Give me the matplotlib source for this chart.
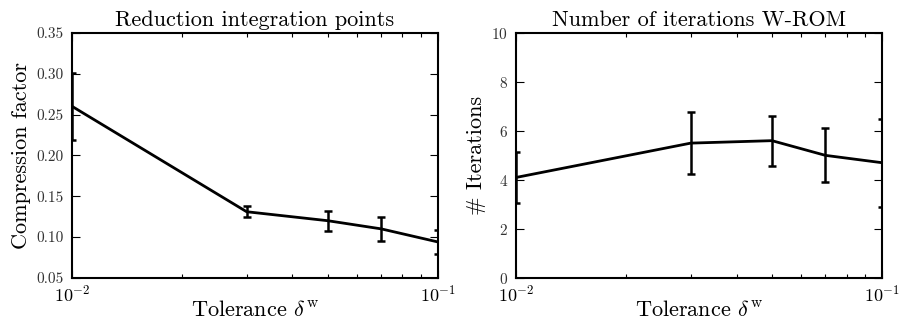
import matplotlib
matplotlib.use("Agg")
import matplotlib.pyplot as plt
import matplotlib.ticker as mticker
import numpy as np

plt.rcParams['font.family'] = 'serif'
plt.rcParams['font.serif'] = ['cmr10']
plt.rcParams['mathtext.fontset'] = 'cm'
plt.rcParams['axes.formatter.use_mathtext'] = True
plt.rcParams['axes.unicode_minus'] = False

tolerance = [0.01, 0.03, 0.05, 0.07, 0.1]

compression = [0.26, 0.131, 0.12, 0.11, 0.094]
compression_err = [0.041, 0.007, 0.012, 0.0145, 0.015]

iterations = [4.1, 5.5, 5.6, 5.0, 4.7]
iterations_err = [1.05, 1.28, 1.02, 1.1, 1.8]

fig = plt.figure(figsize=(9.01, 3.22), dpi=100)
ax1 = fig.add_axes([0.080, 0.137, 0.406, 0.761])
ax2 = fig.add_axes([0.573, 0.137, 0.406, 0.761])

def errbars(ax, y, e):
    ax.errorbar(tolerance, y, yerr=e, color='k', lw=2, ecolor='k',
                elinewidth=1.8, capsize=3, capthick=1.8)

errbars(ax1, compression, compression_err)
errbars(ax2, iterations, iterations_err)

for ax in (ax1, ax2):
    ax.set_xscale('log')
    ax.set_xlim(0.01, 0.1)
    ax.xaxis.set_minor_formatter(mticker.NullFormatter())
    ax.tick_params(which='both', direction='in', top=True, right=True,
                   labelsize=11, pad=6)
    ax.tick_params(axis='x', labelsize=13, pad=4)
    ax.tick_params(which='major', length=6, width=0.8)
    ax.tick_params(which='minor', length=3, width=0.8)
    for s in ax.spines.values():
        s.set_linewidth(1.5)
    ax.set_xlabel(r'Tolerance $\delta^{\mathrm{w}}$', fontsize=16)
    ax.xaxis.set_label_coords(0.5, -0.09)

ax1.set_ylim(0.05, 0.35)
ax1.set_yticks(np.arange(0.05, 0.351, 0.05))
ax1.set_yticklabels(['%.2f' % v for v in np.arange(0.05, 0.351, 0.05)])
ax1.set_ylabel('Compression factor', fontsize=16)
ax1.set_title('Reduction integration points', fontsize=16, pad=5)

ax2.set_ylim(0, 10)
ax2.set_yticks(np.arange(0, 11, 2))
ax2.set_ylabel('# Iterations', fontsize=16)
ax2.set_title('Number of iterations W-ROM', fontsize=16, pad=5)

for ax in (ax1, ax2):
    for lab in ax.get_yticklabels():
        lab.set_color('#333333')

fig.savefig('out.png', dpi=100)
